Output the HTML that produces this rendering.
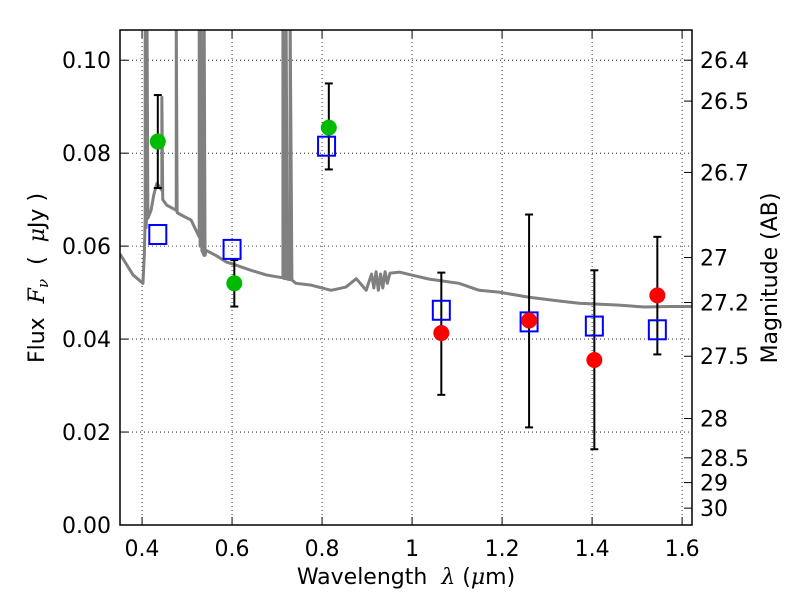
<!DOCTYPE html>
<html><head><meta charset="utf-8">
<style>
body{margin:0;background:#fff;}
svg text{font-family:"DejaVu Sans","Liberation Sans",sans-serif;}
</style></head>
<body>
<svg id="chart" width="800" height="600" xmlns="http://www.w3.org/2000/svg"></svg>
<script>
const xTicks=[0.4,0.6,0.8,1,1.2,1.4,1.6];
const yTicks=[0,0.02,0.04,0.06,0.08,0.10];
const yTickLabels=["0.00","0.02","0.04","0.06","0.08","0.10"];
const magTicks=[26.4,26.5,26.7,27,27.2,27.5,28,28.5,29,30];
const specW=[0.351,0.38,0.402,0.405,0.407,0.407,0.409,0.411,0.411,0.413,0.42,0.426,0.433,0.444,0.444,0.446,0.455,0.476,0.476,0.478,0.487,0.509,0.527,0.527,0.529,0.531,0.531,0.533,0.538,0.538,0.540,0.542,0.564,0.587,0.609,0.642,0.676,0.700,0.713,0.713,0.716,0.720,0.720,0.723,0.729,0.729,0.733,0.742,0.776,0.820,0.853,0.876,0.898,0.91,0.915,0.92,0.925,0.93,0.935,0.94,0.945,0.951,0.973,0.998,1.038,1.104,1.149,1.193,1.260,1.327,1.371,1.460,1.516,1.575,1.625];
const specF=[0.0583,0.0538,0.052,0.058,0.066,0.11,0.064,0.068,0.11,0.066,0.0677,0.071,0.0735,0.072,0.092,0.070,0.0688,0.0677,0.11,0.0672,0.0667,0.0656,0.062,0.11,0.060,0.060,0.11,0.059,0.058,0.11,0.058,0.0591,0.058,0.0566,0.0559,0.0548,0.0538,0.0534,0.0532,0.11,0.053,0.053,0.11,0.0529,0.0528,0.11,0.0527,0.052,0.0516,0.0505,0.0512,0.053,0.0505,0.054,0.051,0.0545,0.0505,0.054,0.051,0.0545,0.052,0.0542,0.0544,0.0538,0.0529,0.052,0.0505,0.0501,0.049,0.0482,0.0477,0.0473,0.0469,0.047,0.047];
const greenW=[0.435,0.605,0.815];
const greenF=[0.0825,0.052,0.0855];
const greenLo=[0.0725,0.047,0.0765];
const greenHi=[0.0925,0.057,0.095];
const redW=[1.065,1.26,1.405,1.545];
const redF=[0.0413,0.044,0.0355,0.0494];
const redLo=[0.028,0.021,0.0163,0.0367];
const redHi=[0.0543,0.0668,0.0548,0.062];
const modelW=[0.435,0.6,0.81,1.065,1.26,1.405,1.545];
const modelF=[0.0625,0.0593,0.0815,0.0462,0.0437,0.0428,0.042];

const L=120,R=692,T=30,B=525;
const xMin=0.351,xMax=1.622,yMin=0,yMax=0.1065;
const X=w=>L+(w-xMin)/(xMax-xMin)*(R-L);
const Y=f=>B-(f-yMin)/(yMax-yMin)*(B-T);
const magToFlux=m=>Math.pow(10,(23.9-m)/2.5);
const svg=document.getElementById('chart');
const NS="http://www.w3.org/2000/svg";
function mk(tag,attrs,parent){const e=document.createElementNS(NS,tag);for(const k in attrs)e.setAttribute(k,attrs[k]);(parent||svg).appendChild(e);return e;}

const defs=mk('defs',{});
const cp=mk('clipPath',{id:'clip'},defs);
mk('rect',{x:L,y:T,width:R-L,height:B-T},cp);

const grid=mk('g',{});


xTicks.forEach(t=>mk('line',{x1:X(t),x2:X(t),y1:T,y2:B,stroke:'#000','stroke-width':0.8,'stroke-dasharray':'1,3'},grid));
yTicks.forEach(t=>mk('line',{x1:L,x2:R,y1:Y(t),y2:Y(t),stroke:'#000','stroke-width':0.8,'stroke-dasharray':'1,3'},grid));

const sp=mk('polyline',{points:specW.map((w,i)=>X(w)+','+Y(specF[i])).join(' '),fill:'none',stroke:'#808080','stroke-width':3,'clip-path':'url(#clip)','stroke-linejoin':'round'});



function errbars(ws,lo,hi,name){
  const g=mk('g',{});
  
  
  ws.forEach((w,i)=>{
    const x=X(w);
    mk('line',{x1:x,x2:x,y1:Y(lo[i]),y2:Y(hi[i]),stroke:'#000','stroke-width':2},g);
    mk('line',{x1:x-4,x2:x+4,y1:Y(lo[i]),y2:Y(lo[i]),stroke:'#000','stroke-width':2},g);
    mk('line',{x1:x-4,x2:x+4,y1:Y(hi[i]),y2:Y(hi[i]),stroke:'#000','stroke-width':2},g);
  });
}
errbars(greenW,greenLo,greenHi,'green-error-bars');
errbars(redW,redLo,redHi,'red-error-bars');

modelW.forEach((w,i)=>{
  const r=mk('rect',{x:X(w)-8.5,y:Y(modelF[i])-9.5,width:17,height:19,fill:'none',stroke:'#0000ff','stroke-width':2});
  
  
});
greenW.forEach((w,i)=>{
  const c=mk('circle',{cx:X(w),cy:Y(greenF[i]),r:8,fill:'#00bb00'});
  
  
});
redW.forEach((w,i)=>{
  const c=mk('circle',{cx:X(w),cy:Y(redF[i]),r:8,fill:'#ff0000'});
  
  
});

const fr=mk('rect',{x:L,y:T,width:R-L,height:B-T,fill:'none',stroke:'#000','stroke-width':1.5});



const xa=mk('g',{});


xTicks.forEach(t=>{
  mk('line',{x1:X(t),x2:X(t),y1:B,y2:B-8,stroke:'#000','stroke-width':1},xa);
  mk('line',{x1:X(t),x2:X(t),y1:T,y2:T+8,stroke:'#000','stroke-width':1},xa);
  const tx=mk('text',{x:X(t),y:B+31,'font-size':22,'text-anchor':'middle'},xa);
  tx.textContent=String(t);
});
const ya=mk('g',{});


yTicks.forEach((t,i)=>{
  mk('line',{x1:L,x2:L+8,y1:Y(t),y2:Y(t),stroke:'#000','stroke-width':1},ya);
  const tx=mk('text',{x:L-9,y:Y(t)+8,'font-size':22,'text-anchor':'end'},ya);
  tx.textContent=yTickLabels[i];
});
const ma=mk('g',{});


magTicks.forEach(m=>{
  const y=Y(magToFlux(m));
  mk('line',{x1:R,x2:R-8,y1:y,y2:y,stroke:'#000','stroke-width':1},ma);
  const tx=mk('text',{x:R+8,y:y+8,'font-size':22,'text-anchor':'start'},ma);
  tx.textContent=String(m);
});
</script>
<svg width="800" height="600" style="position:absolute;left:0;top:0" xmlns="http://www.w3.org/2000/svg">
<text x="406" y="584" font-size="22" text-anchor="middle" xml:space="preserve">Wavelength  <tspan font-style="italic" font-family="DejaVu Serif, serif">λ</tspan> (<tspan font-style="italic" font-family="DejaVu Serif, serif">μ</tspan>m)</text>
<text transform="translate(44,278) rotate(-90)" font-size="22" text-anchor="middle" xml:space="preserve">Flux  <tspan font-style="italic" font-family="DejaVu Serif, serif">F</tspan><tspan font-style="italic" font-family="DejaVu Serif, serif" font-size="15" dy="4">ν</tspan><tspan dy="-4">  (  </tspan><tspan font-style="italic" font-family="DejaVu Serif, serif">μ</tspan>Jy )</text>
<text transform="translate(777,278) rotate(-90)" font-size="22" text-anchor="middle">Magnitude (AB)</text>
</svg>
</body></html>
